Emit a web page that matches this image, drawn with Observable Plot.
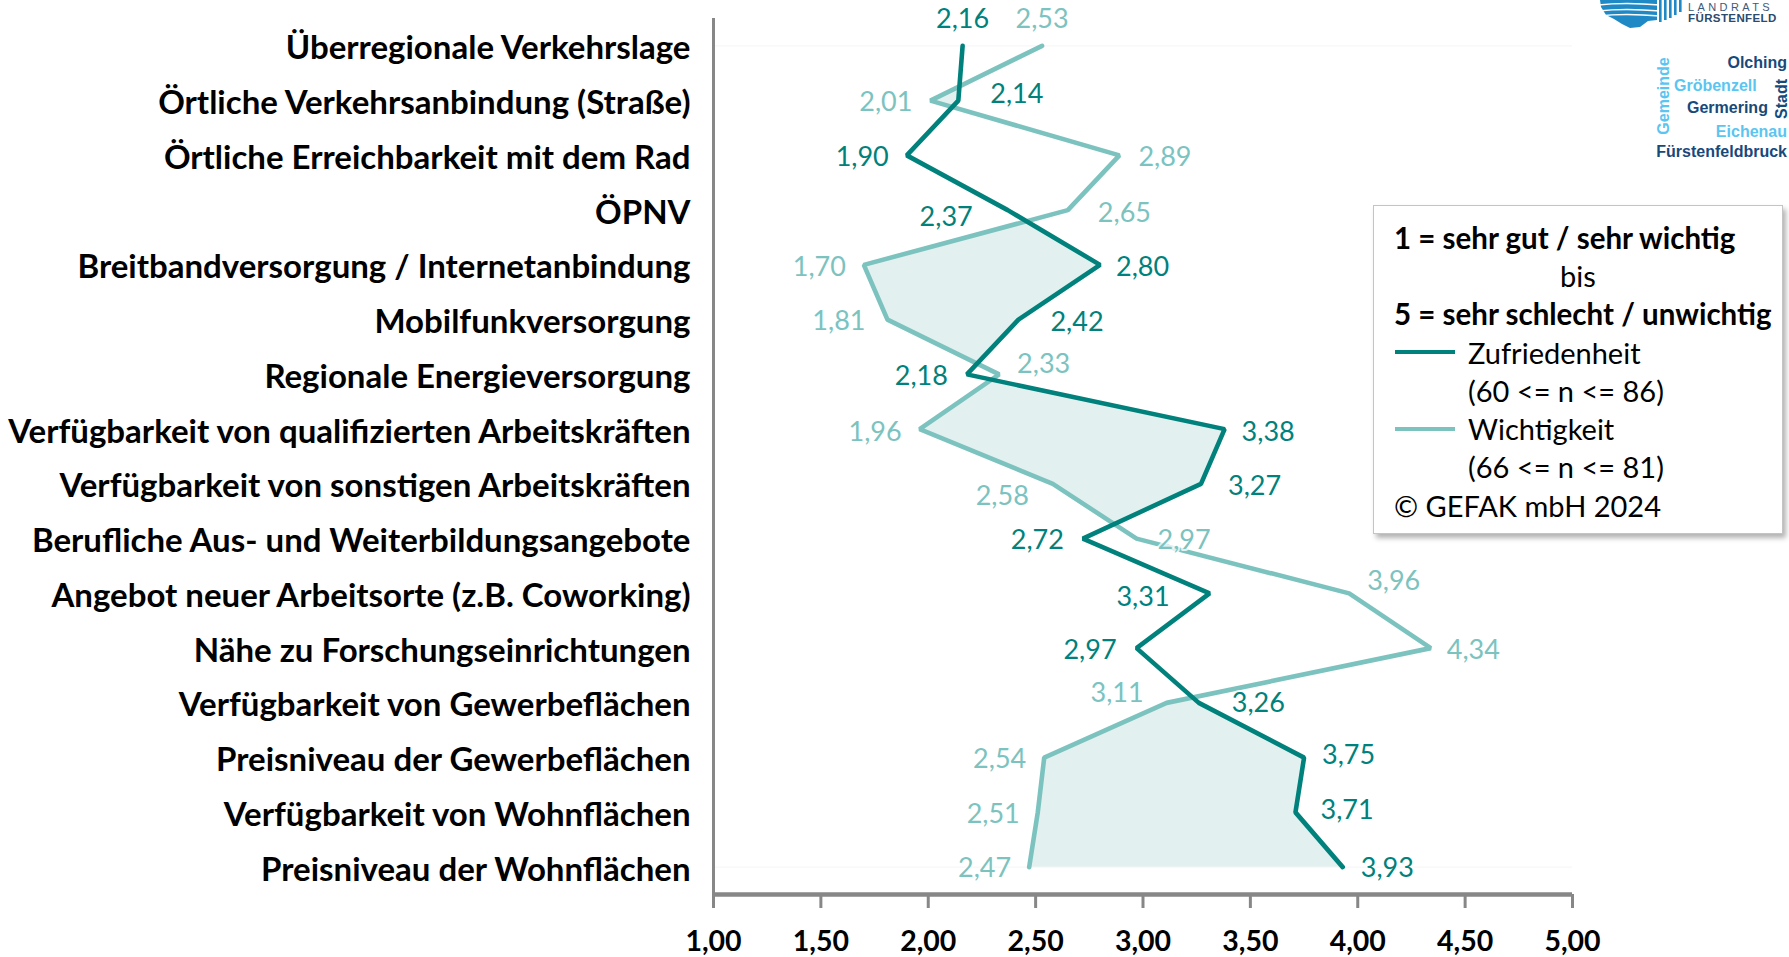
<!DOCTYPE html>
<html><head><meta charset="utf-8">
<script src="https://cdn.jsdelivr.net/npm/d3@7"></script>
<script src="https://cdn.jsdelivr.net/npm/@observablehq/plot@0.6"></script>
<style>
html,body{margin:0;padding:0;background:#fff;width:1789px;height:957px;overflow:hidden;font-family:Lato,"Open Sans",sans-serif;}
#chart{position:absolute;left:0;top:0;}
#legend{position:absolute;left:1373px;top:205px;width:410px;height:329px;border:1px solid #c4c4c4;box-shadow:3px 4px 5px rgba(0,0,0,0.3);background:#fff;box-sizing:border-box;padding-top:12px;}
.lg{height:38.3px;display:flex;align-items:center;font-size:29px;color:#000;white-space:nowrap;}
.b{font-weight:bold;font-size:29.5px;}
.sw{display:inline-block;width:60px;height:4px;margin-right:13px;}
#logo{position:absolute;left:0;top:0;}
</style>
</head><body>
<div id="chart"></div>
<div id="legend"></div>
<svg id="logo" width="1789" height="170" viewBox="0 0 1789 170"></svg>
<script>
// ---------- data ----------
const labels = [
  "Überregionale Verkehrslage",
  "Örtliche Verkehrsanbindung (Straße)",
  "Örtliche Erreichbarkeit mit dem Rad",
  "ÖPNV",
  "Breitbandversorgung / Internetanbindung",
  "Mobilfunkversorgung",
  "Regionale Energieversorgung",
  "Verfügbarkeit von qualifizierten Arbeitskräften",
  "Verfügbarkeit von sonstigen Arbeitskräften",
  "Berufliche Aus- und Weiterbildungsangebote",
  "Angebot neuer Arbeitsorte (z.B. Coworking)",
  "Nähe zu Forschungseinrichtungen",
  "Verfügbarkeit von Gewerbeflächen",
  "Preisniveau der Gewerbeflächen",
  "Verfügbarkeit von Wohnflächen",
  "Preisniveau der Wohnflächen"
];
const zufriedenheit = [2.16, 2.14, 1.90, 2.37, 2.80, 2.42, 2.18, 3.38, 3.27, 2.72, 3.31, 2.97, 3.26, 3.75, 3.71, 3.93];
const wichtigkeit   = [2.53, 2.01, 2.89, 2.65, 1.70, 1.81, 2.33, 1.96, 2.58, 2.97, 3.96, 4.34, 3.11, 2.54, 2.51, 2.47];
const xTicks = [1, 1.5, 2, 2.5, 3, 3.5, 4, 4.5, 5];
const seriesNames = ["Zufriedenheit", "Wichtigkeit"];
const seriesN = ["(60 <= n <= 86)", "(66 <= n <= 81)"];

// ---------- label layout (anchor, dx, dy) ----------
const zufLayout = [
  ["middle",0,-27],["start",32,-6],["end",-18,2],["end",-35,7],["start",16,2],["start",32,3],["end",-19,2],["start",17,3],
  ["start",27,2],["end",-19,2],["end",-40,4],["end",-20,2],["start",33,0],["start",18,-2],["start",25,-2],["start",18,1]
];
const wichLayout = [
  ["middle",0,-27],["end",-18,2],["start",19,2],["start",30,3],["end",-18,2],["end",-22,2],["start",18,-10],["end",-18,3],
  ["end",-24,12],["start",21,2],["start",18,-12],["start",16,2],["end",-23,-10],["end",-18,2],["end",-18,2],["end",-18,1]
];

const ZUF = "#00817c", WICH = "#7cc3bf", FILL = "#e2f1f0", AX = "#878787";
const fmt = v => v.toFixed(2).replace(".", ",");
const n = labels.length;
const idx = d3.range(n);

// fill between the lines where Zufriedenheit > Wichtigkeit (crossings derived from the data)
const fillPts = [];
for (let i = 0; i < n; i++) {
  fillPts.push({y: i, x1: wichtigkeit[i], x2: Math.max(wichtigkeit[i], zufriedenheit[i])});
  if (i < n - 1) {
    const d0 = zufriedenheit[i] - wichtigkeit[i], d1 = zufriedenheit[i+1] - wichtigkeit[i+1];
    if (d0 * d1 < 0) {
      const t = d0 / (d0 - d1);
      const xw = wichtigkeit[i] + t * (wichtigkeit[i+1] - wichtigkeit[i]);
      fillPts.push({y: i + t, x1: xw, x2: xw});
    }
  }
}

const textMarks = (vals, layout, color) => idx.map(i => Plot.text([i], {
  x: j => vals[j], y: j => j, text: j => fmt(vals[j]),
  textAnchor: layout[i][0], dx: layout[i][1], dy: layout[i][2],
  fill: color, fontSize: 27, stroke: "white", strokeWidth: 4, strokeOpacity: 0.75, paintOrder: "stroke"
}));

const chart = Plot.plot({
  width: 1789, height: 957,
  marginLeft: 713, marginRight: 217, marginTop: 18, marginBottom: 63,
  style: {fontFamily: "Lato, sans-serif", background: "white", color: "black", overflow: "visible"},
  x: {domain: [1, 5]},
  y: {domain: [-0.5, n - 0.5], reverse: true},
  marks: [
    Plot.ruleY([0, n - 1], {stroke: "#f5f5f5", strokeWidth: 1}),
    Plot.areaX(fillPts, {y: "y", x1: "x1", x2: "x2", fill: FILL}),
    Plot.line(idx, {x: i => wichtigkeit[i], y: i => i, stroke: WICH, strokeWidth: 4.6, strokeLinejoin: "miter", strokeLinecap: "round"}),
    Plot.line(idx, {x: i => zufriedenheit[i], y: i => i, stroke: ZUF, strokeWidth: 4.6, strokeLinejoin: "miter", strokeLinecap: "round"}),
    ...textMarks(wichtigkeit, wichLayout, WICH),
    ...textMarks(zufriedenheit, zufLayout, ZUF),
    Plot.axisY(idx, {tickFormat: i => labels[i], tickSize: 0, tickPadding: 23, fontSize: 33, fontWeight: "bold", fill: "black", dy: 3, label: null}),
    Plot.axisX(xTicks, {tickFormat: fmt, tickSize: 14, tickPadding: 22, fontSize: 28.5, fontWeight: "bold", stroke: AX, strokeWidth: 3, fill: "black", label: null}),
    Plot.ruleX([1], {stroke: AX, strokeWidth: 3}),
    Plot.ruleY([n - 0.5], {stroke: AX, strokeWidth: 4.5})
  ]
});
document.getElementById("chart").appendChild(chart);

// ---------- legend ----------
const lg = document.getElementById("legend");
lg.innerHTML = `
 <div class="lg b" style="padding-left:20px">1 = sehr gut / sehr wichtig</div>
 <div class="lg" style="padding-left:186px">bis</div>
 <div class="lg b" style="padding-left:20px">5 = sehr schlecht / unwichtig</div>
 <div class="lg" style="padding-left:21px"><span class="sw" style="background:${ZUF}"></span>${seriesNames[0]}</div>
 <div class="lg" style="padding-left:94px">${seriesN[0].replace(/</g,"&lt;")}</div>
 <div class="lg" style="padding-left:21px"><span class="sw" style="background:${WICH}"></span>${seriesNames[1]}</div>
 <div class="lg" style="padding-left:94px">${seriesN[1].replace(/</g,"&lt;")}</div>
 <div class="lg" style="padding-left:20px">© GEFAK mbH 2024</div>`;

// ---------- logo (decoration) ----------
const logo = d3.select("#logo");
logo.append("path").attr("d", "M1600,0 L1657,0 L1657,20 L1648,21 L1640,27 L1630,28 L1622,24 L1614,19 L1606,15 L1601,7 Z").attr("fill", "#1f89c6");
[5, 11, 16].forEach(y => logo.append("path").attr("d", `M1598,${y} Q1625,${y-3} 1660,${y}`).attr("stroke", "white").attr("stroke-width", 1.6).attr("fill", "none"));
[[1659,22],[1664,20],[1669,18],[1674,15],[1679,12]].forEach(([x,h]) => logo.append("rect").attr("x", x).attr("y", 0).attr("width", 2.6).attr("height", h).attr("fill", "#1f89c6"));
logo.append("text").attr("x", 1688).attr("y", 10.5).attr("font-family", "Liberation Sans, Arial").attr("font-size", 11).attr("letter-spacing", 3.4).attr("fill", "#3d5a7a").text("LANDRATS");
logo.append("text").attr("x", 1688).attr("y", 22).attr("font-family", "Liberation Sans, Arial").attr("font-size", 11.5).attr("font-weight", "bold").attr("letter-spacing", 0.4).attr("fill", "#2a4a6e").text("FÜRSTENFELD");
const DK = "#17497a", LT = "#5bc5f1";
const wc = (t, x, y, col, anchor, rot) => {
  const e = logo.append("text").attr("font-family", "Liberation Sans, Arial").attr("font-size", 16).attr("font-weight", "bold")
    .attr("fill", col).attr("text-anchor", anchor).text(t);
  if (rot) e.attr("transform", `translate(${x},${y}) rotate(-90)`); else e.attr("x", x).attr("y", y);
};
wc("Olching", 1787, 68, DK, "end");
wc("Gröbenzell", 1674, 91, LT, "start");
wc("Germering", 1687, 113, DK, "start");
wc("Eichenau", 1787, 137, LT, "end");
wc("Fürstenfeldbruck", 1787, 157, DK, "end");
wc("Gemeinde", 1669, 96, LT, "middle", true);
wc("Stadt", 1787, 99, DK, "middle", true);
</script>
</body></html>
